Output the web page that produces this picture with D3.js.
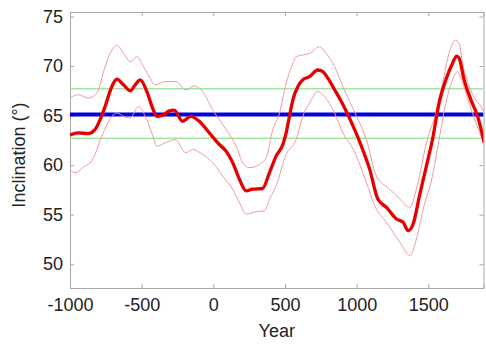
<!DOCTYPE html>
<html>
<head>
<meta charset="utf-8">
<script src="https://cdn.jsdelivr.net/npm/d3@7"></script>
<style>
  body { margin: 0; background: #fff; }
  text { font-family: "Liberation Sans", Arial, sans-serif; fill: #222; }
</style>
</head>
<body>
<div id="chart"></div>
<script>
// Mean inclination curve (thick red)
const meanYears = [-1000, -942, -872, -825, -790, -755, -708, -673, -627, -580, -545, -510, -464, -424, -394, -359, -313, -273, -215, -156, -98, -28, 42, 89, 135, 182, 229, 275, 343, 392, 438, 485, 508, 531, 555, 590, 624, 671, 729, 764, 799, 846, 893, 939, 986, 1033, 1091, 1148, 1208, 1278, 1324, 1359, 1394, 1441, 1485, 1529, 1575, 1622, 1669, 1697, 1715, 1750, 1797, 1844, 1890];
const meanValues = [63.05, 63.25, 63.18, 63.59, 64.59, 65.92, 67.93, 68.67, 68.1, 67.5, 68.1, 68.6, 67.43, 65.76, 64.92, 64.99, 65.42, 65.54, 64.42, 64.92, 64.42, 63.25, 62.08, 61.41, 60.25, 58.57, 57.4, 57.57, 57.64, 59.24, 60.91, 62.08, 63.25, 64.92, 66.59, 67.93, 68.6, 68.93, 69.6, 69.43, 68.77, 67.6, 66.42, 65.09, 63.58, 61.91, 59.57, 56.57, 55.73, 54.56, 54.23, 53.39, 54.06, 57.07, 59.8, 62.58, 66.26, 68.6, 70.28, 71.0, 70.78, 68.6, 66.59, 64.92, 62.25];

// Upper envelope (thin red)
const upperYears = [-1000, -942, -872, -813, -755, -708, -673, -627, -580, -534, -487, -441, -406, -336, -261, -191, -133, -75, -5, 89, 159, 205, 252, 322, 369, 415, 462, 508, 548, 578, 671, 741, 788, 846, 904, 951, 998, 1068, 1138, 1231, 1301, 1371, 1417, 1487, 1552, 1599, 1645, 1687, 1715, 1739, 1785, 1832, 1867, 1900];
const upperValues = [66.77, 67.1, 66.77, 67.27, 69.93, 71.6, 72.1, 71.28, 70.44, 70.94, 69.93, 68.77, 68.1, 68.43, 68.43, 67.6, 68.0, 67.43, 65.59, 63.58, 61.91, 60.25, 59.74, 60.08, 60.75, 63.59, 65.26, 68.27, 70.0, 70.94, 71.28, 71.94, 71.28, 69.93, 67.93, 66.42, 64.99, 62.58, 58.9, 57.57, 56.57, 55.73, 57.57, 62.25, 65.26, 68.27, 71.28, 72.61, 72.28, 70.28, 67.93, 66.59, 65.92, 64.92];

// Lower envelope (thin red)
const lowerYears = [-1000, -965, -895, -848, -778, -708, -673, -627, -580, -522, -475, -429, -394, -336, -266, -191, -145, -75, -5, 65, 135, 182, 229, 299, 357, 392, 438, 508, 578, 624, 671, 729, 776, 846, 904, 980, 1068, 1126, 1208, 1301, 1371, 1417, 1464, 1529, 1575, 1622, 1669, 1704, 1739, 1785, 1832, 1885];
const lowerValues = [59.57, 59.24, 59.9, 60.41, 62.91, 64.92, 65.26, 64.92, 64.76, 65.92, 64.92, 63.25, 61.91, 62.25, 62.58, 61.25, 61.58, 61.08, 60.25, 58.9, 57.57, 56.23, 55.06, 55.31, 55.39, 56.56, 57.9, 61.08, 62.58, 64.92, 66.26, 67.43, 66.93, 65.26, 63.25, 61.5, 58.24, 55.89, 54.23, 52.22, 50.88, 52.55, 55.56, 58.9, 62.58, 66.26, 68.6, 69.43, 68.27, 66.26, 64.26, 62.3];

// Reference levels: blue average, green bounds
const averageLevel = 65.1;
const boundLevels = [67.7, 62.72];

const xTicks = [-1000, -500, 0, 500, 1000, 1500];
const yTicks = [50, 55, 60, 65, 70, 75];

const margin = {top: 12, right: 2.5, bottom: 57, left: 70},
    width = 486 - margin.left - margin.right,
    height = 345 - margin.top - margin.bottom;

let x = d3.scaleLinear().domain([-1000, 1885]).range([0, width]);
let y = d3.scaleLinear().domain([47.6, 75.45]).range([height, 0]);

let svg = d3.select("#chart").append("svg")
    .attr("width", 486)
    .attr("height", 345)
    .append("g")
    .attr("transform", "translate(" + margin.left + "," + margin.top + ")");

// Box axes with inward ticks (plain hyphen minus, no thousands comma)
let axisColor = "#a9a9a9";
let plainFormat = d => String(d);
svg.append("g")
    .attr("transform", "translate(0," + height + ")")
    .call(d3.axisBottom(x).tickValues(xTicks).tickSize(-4).tickPadding(10).tickFormat(plainFormat))
    .call(g => g.selectAll("text").style("font-size", "18px"));
svg.append("g")
    .call(d3.axisTop(x).tickValues(xTicks).tickSize(-4).tickFormat(""));
svg.append("g")
    .call(d3.axisLeft(y).tickValues(yTicks).tickSize(-4).tickPadding(7).tickFormat(plainFormat))
    .call(g => g.selectAll("text").style("font-size", "18px"));
svg.append("g")
    .attr("transform", "translate(" + width + ",0)")
    .call(d3.axisRight(y).tickValues(yTicks).tickSize(-4).tickFormat(""));
svg.selectAll(".domain, .tick line").attr("stroke", axisColor);
svg.selectAll(".tick text").attr("fill", "#222").attr("font-family", null);

// Clip the data lines to the plot box
svg.append("clipPath").attr("id", "clip")
    .append("rect").attr("width", width).attr("height", height);
let plot = svg.append("g").attr("clip-path", "url(#clip)");

// Green bound lines
for (let level of boundLevels) {
    plot.append("path")
        .datum([-1000, 1885])
        .attr("fill", "none")
        .attr("stroke", "#9fe89f")
        .attr("stroke-width", 1.5)
        .attr("d", d3.line().x(d => x(d)).y(() => y(level)));
}

// Blue average line
plot.append("path")
    .datum([-1000, 1885])
    .attr("fill", "none")
    .attr("stroke", "#0000e0")
    .attr("stroke-width", 4)
    .attr("d", d3.line().x(d => x(d)).y(() => y(averageLevel)));

let line = d3.line()
    .curve(d3.curveMonotoneX)
    .x(d => x(d[0]))
    .y(d => y(d[1]));

// Thin envelope lines
plot.append("path")
    .datum(upperYears.map((yr, i) => [yr, upperValues[i]]))
    .attr("fill", "none")
    .attr("stroke", "#f29a9a")
    .attr("stroke-width", 1)
    .attr("d", line);
plot.append("path")
    .datum(lowerYears.map((yr, i) => [yr, lowerValues[i]]))
    .attr("fill", "none")
    .attr("stroke", "#f29a9a")
    .attr("stroke-width", 1)
    .attr("d", line);

// Thick mean line
plot.append("path")
    .datum(meanYears.map((yr, i) => [yr, meanValues[i]]))
    .attr("fill", "none")
    .attr("stroke", "#e60000")
    .attr("stroke-width", 3.3)
    .attr("stroke-linejoin", "round")
    .attr("d", line);

// Axis titles
svg.append("text")
    .attr("x", width / 2)
    .attr("y", height + 49)
    .attr("text-anchor", "middle")
    .style("font-size", "18px")
    .text("Year");
svg.append("text")
    .attr("transform", "translate(" + (-45) + "," + (height / 2 + 5) + ") rotate(-90)")
    .attr("text-anchor", "middle")
    .style("font-size", "18px")
    .text("Inclination (°)");
</script>
</body>
</html>
